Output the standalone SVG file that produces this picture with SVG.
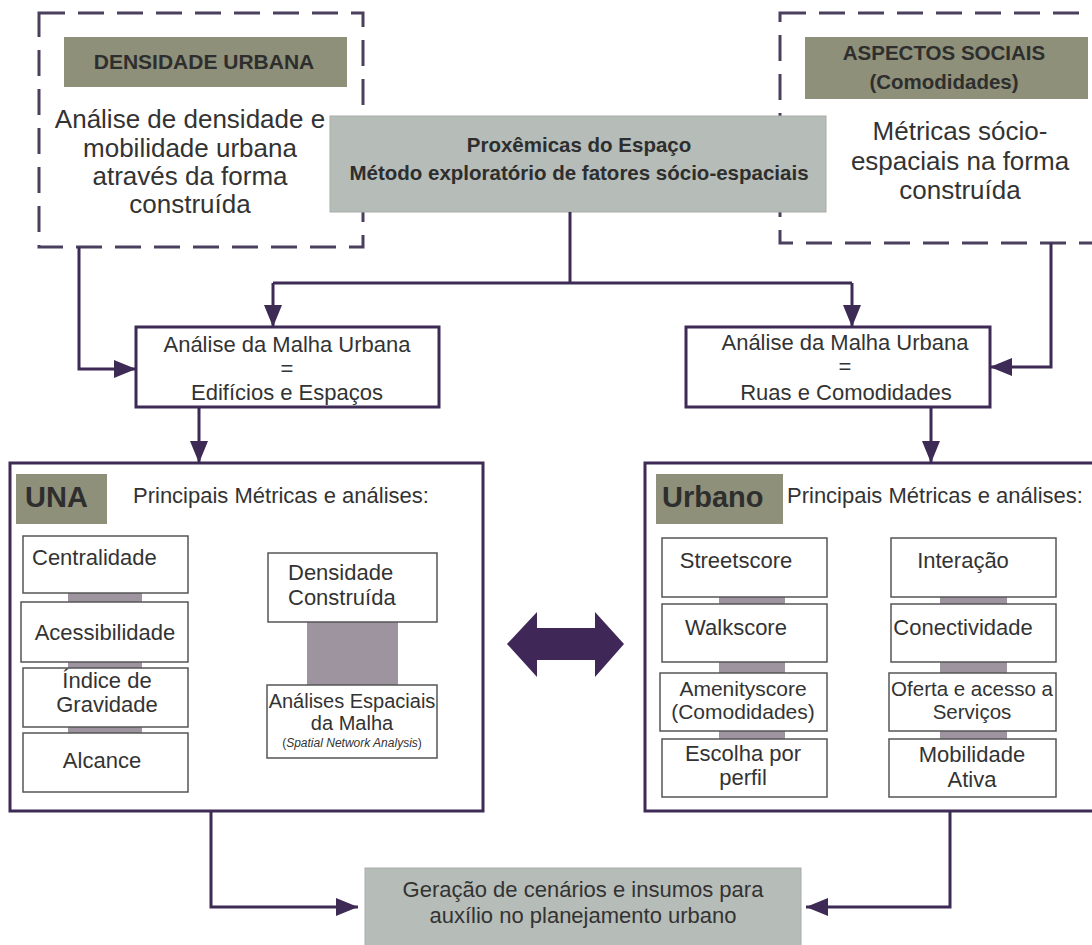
<svg xmlns="http://www.w3.org/2000/svg" width="1092" height="945" viewBox="0 0 1092 945">
<defs>
<style>
.dash{fill:none;stroke:#4b3f5e;stroke-width:3;stroke-dasharray:26 13}
.lbl{fill:#8e9079}
.gray{fill:#b6bcb7;stroke:#a7ada8;stroke-width:1}
.frame{fill:#fff;stroke:#3d2a55;stroke-width:3}
.mbox{fill:#fff;stroke:#555;stroke-width:1.5}
.bar{fill:#9d949f}
.con{fill:none;stroke:#3d2a55;stroke-width:3}
.t{font-family:"Liberation Sans",Arial,sans-serif;fill:#333}
.b{font-family:"Liberation Sans",Arial,sans-serif;font-weight:bold;fill:#2e2e2e}
.m{text-anchor:middle}
</style>
<marker id="ah" viewBox="0 0 22 18" refX="22" refY="9" markerWidth="22" markerHeight="18" orient="auto" markerUnits="userSpaceOnUse">
<path d="M0,0 L22,9 L0,18 Z" fill="#3d2a55"/>
</marker>
</defs>
<rect width="1092" height="945" fill="#fff"/>

<g id="densidade-urbana">
<rect class="dash" x="39" y="13" width="324" height="234"/>
<rect class="lbl" x="64" y="37" width="283" height="50"/>
<text class="b m" x="204" y="69" font-size="21">DENSIDADE URBANA</text>
<text class="t m" x="190" y="128" font-size="26">Análise de densidade e</text>
<text class="t m" x="190" y="157" font-size="26">mobilidade urbana</text>
<text class="t m" x="190" y="185" font-size="26">através da forma</text>
<text class="t m" x="190" y="213" font-size="26">construída</text>
</g>

<g id="aspectos-sociais">
<rect class="dash" x="780" y="13" width="340" height="230"/>
<rect class="lbl" x="805" y="37" width="283" height="62"/>
<text class="b m" x="944" y="60" font-size="20.5">ASPECTOS SOCIAIS</text>
<text class="b m" x="944" y="89" font-size="20.5">(Comodidades)</text>
<text class="t m" x="960" y="140" font-size="26">Métricas sócio-</text>
<text class="t m" x="960" y="170" font-size="26">espaciais na forma</text>
<text class="t m" x="960" y="199" font-size="26">construída</text>
</g>

<g id="proxemicas">
<rect class="gray" x="330" y="116" width="496" height="96"/>
<text class="b m" x="579" y="152" font-size="20.5">Proxêmicas do Espaço</text>
<text class="b m" x="579" y="180" font-size="20.5">Método exploratório de fatores sócio-espaciais</text>
</g>

<g id="connectors">
<path class="con" d="M570,212 V283"/>
<path class="con" d="M273,283 H852"/>
<path class="con" d="M273,283 V327" marker-end="url(#ah)"/>
<path class="con" d="M852,283 V327" marker-end="url(#ah)"/>
<path class="con" d="M79,247 V369 H136" marker-end="url(#ah)"/>
<path class="con" d="M1051,243 V367 H990" marker-end="url(#ah)"/>
<path class="con" d="M199,407 V463" marker-end="url(#ah)"/>
<path class="con" d="M931,407 V463" marker-end="url(#ah)"/>
<path class="con" d="M211,811 V907 H358" marker-end="url(#ah)"/>
<path class="con" d="M950,811 V907 H806" marker-end="url(#ah)"/>
</g>

<g id="malha-edificios">
<rect class="frame" x="136" y="327" width="303" height="80"/>
<text class="t m" x="287" y="352" font-size="22">Análise da Malha Urbana</text>
<text class="t m" x="287" y="376" font-size="22">=</text>
<text class="t m" x="287" y="400" font-size="22">Edifícios e Espaços</text>
</g>

<g id="malha-ruas">
<rect class="frame" x="686" y="327" width="304" height="80"/>
<text class="t m" x="845" y="350" font-size="22">Análise da Malha Urbana</text>
<text class="t m" x="845" y="374" font-size="22">=</text>
<text class="t m" x="846" y="400" font-size="22">Ruas e Comodidades</text>
</g>

<g id="una">
<rect class="frame" x="10" y="463" width="473" height="348"/>
<rect class="lbl" x="16" y="474" width="91" height="50"/>
<text class="b" x="25" y="507" font-size="29">UNA</text>
<text class="t" x="133" y="503" font-size="22">Principais Métricas e análises:</text>
<rect class="bar" x="68" y="592" width="74" height="11"/>
<rect class="bar" x="68" y="661" width="74" height="8"/>
<rect class="bar" x="68" y="726" width="74" height="8"/>
<rect class="mbox" x="23" y="536" width="165" height="57"/>
<text class="t" x="32" y="565" font-size="22">Centralidade</text>
<rect class="mbox" x="21" y="602" width="167" height="60"/>
<text class="t m" x="105" y="640" font-size="22">Acessibilidade</text>
<rect class="mbox" x="23" y="668" width="165" height="59"/>
<text class="t m" x="107" y="688" font-size="22">Índice de</text>
<text class="t m" x="107" y="712" font-size="22">Gravidade</text>
<rect class="mbox" x="23" y="733" width="165" height="59"/>
<text class="t m" x="102" y="768" font-size="22">Alcance</text>
<rect class="bar" x="307" y="621" width="91" height="65"/>
<rect class="mbox" x="268" y="553" width="169" height="69"/>
<text class="t" x="288" y="580" font-size="22">Densidade</text>
<text class="t" x="288" y="605" font-size="22">Construída</text>
<rect class="mbox" x="267" y="685" width="170" height="73"/>
<text class="t m" x="352" y="708" font-size="20">Análises Espaciais</text>
<text class="t m" x="352" y="730" font-size="20">da Malha</text>
<text class="t m" x="352" y="747" font-size="12">(<tspan font-style="italic">Spatial Network Analysis</tspan>)</text>
</g>

<g id="urbano">
<rect class="frame" x="645" y="463" width="470" height="348"/>
<rect class="lbl" x="656" y="474" width="127" height="50"/>
<text class="b" x="662" y="507" font-size="29">Urbano</text>
<text class="t" x="787" y="503" font-size="22">Principais Métricas e análises:</text>
<rect class="bar" x="719" y="596" width="66" height="9"/>
<rect class="bar" x="719" y="661" width="66" height="13"/>
<rect class="bar" x="719" y="730" width="66" height="10"/>
<rect class="bar" x="940" y="596" width="67" height="9"/>
<rect class="bar" x="940" y="661" width="67" height="13"/>
<rect class="bar" x="940" y="730" width="67" height="10"/>
<rect class="mbox" x="662" y="538" width="165" height="59"/>
<text class="t m" x="736" y="568" font-size="22">Streetscore</text>
<rect class="mbox" x="662" y="604" width="165" height="58"/>
<text class="t m" x="736" y="635" font-size="22">Walkscore</text>
<rect class="mbox" x="660" y="673" width="167" height="58"/>
<text class="t m" x="743" y="696" font-size="21">Amenityscore</text>
<text class="t m" x="743" y="719" font-size="21">(Comodidades)</text>
<rect class="mbox" x="662" y="739" width="165" height="58"/>
<text class="t m" x="743" y="761" font-size="22">Escolha por</text>
<text class="t m" x="743" y="785" font-size="22">perfil</text>
<rect class="mbox" x="891" y="538" width="165" height="59"/>
<text class="t m" x="963" y="568" font-size="22">Interação</text>
<rect class="mbox" x="891" y="604" width="165" height="58"/>
<text class="t m" x="963" y="635" font-size="22">Conectividade</text>
<rect class="mbox" x="889" y="673" width="167" height="58"/>
<text class="t m" x="972" y="696" font-size="20.5">Oferta e acesso a</text>
<text class="t m" x="972" y="719" font-size="20.5">Serviços</text>
<rect class="mbox" x="889" y="739" width="167" height="58"/>
<text class="t m" x="972" y="762" font-size="22">Mobilidade</text>
<text class="t m" x="972" y="787" font-size="22">Ativa</text>
</g>

<g id="double-arrow">
<path d="M507,644 L537,612 L537,628 L595,628 L595,612 L624,644 L595,677 L595,660 L537,660 L537,677 Z" fill="#3f2757"/>
</g>

<g id="geracao">
<rect class="gray" x="365" y="868" width="436" height="90"/>
<text class="t m" x="583" y="897" font-size="22">Geração de cenários e insumos para</text>
<text class="t m" x="583" y="923" font-size="22">auxílio no planejamento urbano</text>
</g>
</svg>
